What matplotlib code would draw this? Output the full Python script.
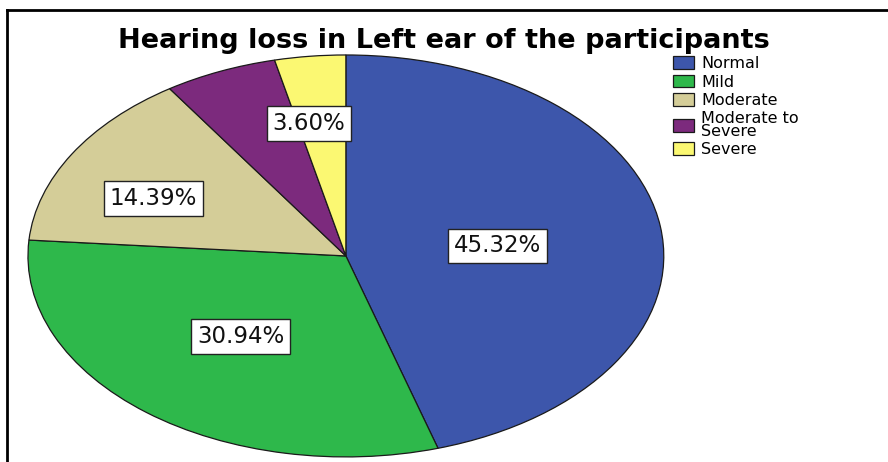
import matplotlib.pyplot as plt
import numpy as np
from matplotlib.lines import Line2D

categories = ['Normal', 'Mild', 'Moderate', 'Moderate to\nSevere', 'Severe']
percent = [45.32, 30.94, 14.39, 5.75, 3.60]
show_label = [True, True, True, False, True]
colors = ['#3d56ab', '#2eb84b', '#d4cd98', '#7c2a7d', '#fbf872']

plt.rcParams['font.family'] = ['DejaVu Sans']

fig = plt.figure(figsize=(8.88, 4.62), dpi=100)
ax = fig.add_axes([0.0315, 0.011, 0.716, 0.870])

wedges, _ = ax.pie(percent, colors=colors, startangle=90, counterclock=False,
                   wedgeprops=dict(edgecolor='#1a1a1a', linewidth=0.9))
ax.set_aspect('auto')
ax.set_xlim(-1, 1)
ax.set_ylim(-1, 1)

# label placement: distance from centre and angle nudge (deg) per slice
dist = [0.48, 0.52, 0.67, 0.6, 0.67]
nudge = [-2.5, -0.7, 5.2, 0, 3.5]
for w, p, d, n, s in zip(wedges, percent, dist, nudge, show_label):
    if not s:
        continue
    ang = np.deg2rad((w.theta1 + w.theta2) / 2 + n)
    ax.text(d * np.cos(ang), d * np.sin(ang), f'{p:.2f}%',
            ha='center', va='center', fontsize=16.5, color='#111111',
            bbox=dict(facecolor='white', edgecolor='#222222', linewidth=1.0,
                      boxstyle='square,pad=0.25'))

fig.text(0.5, 0.912, 'Hearing loss in Left ear of the participants',
         ha='center', va='center', fontsize=19.5, fontweight='bold')

leg = fig.legend(wedges, categories, loc='upper left', bbox_to_anchor=(0.758, 0.878),
                 frameon=False, fontsize=11.5, handlelength=1.3, handleheight=0.85,
                 handletextpad=0.45, labelspacing=0.2, borderaxespad=0, borderpad=0)
for t in leg.get_texts():
    t.set_linespacing(0.85)

# frame lines on top and left
fig.add_artist(Line2D([0.008, 1.0], [0.978, 0.978], color='black', linewidth=2))
fig.add_artist(Line2D([0.008, 0.008], [0.0, 0.978], color='black', linewidth=2))

fig.savefig('out.png', dpi=100)
